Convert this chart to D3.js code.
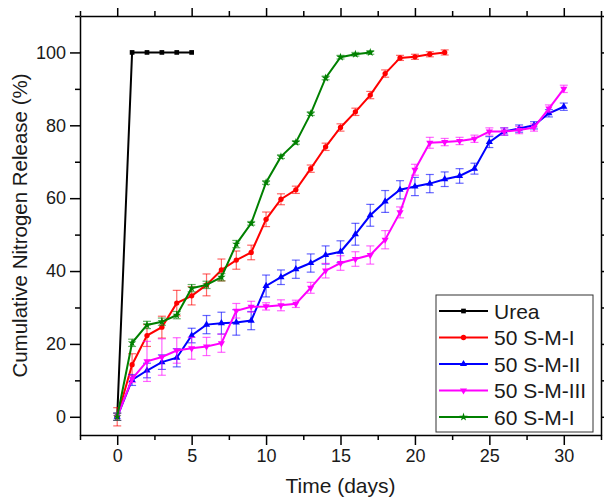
<!DOCTYPE html>
<html>
<head>
<meta charset="utf-8">
<style>
body { margin: 0; background: #fff; }
svg { font-family: "Liberation Sans", Arial, sans-serif; }
.axis path, .axis line { stroke: #000; stroke-width: 1.5px; }
.axis text { font-size: 18px; fill: #1a1a1a; }
</style>
<script src="https://d3js.org/d3.v7.min.js"></script>
</head>
<body>
<svg width="604" height="500"></svg>
<script>
// values (day index = position in array)
var names = ["Urea", "50 S-M-I", "50 S-M-II", "50 S-M-III", "60 S-M-I"];
var colors = ["#000000", "#ff0000", "#0000ff", "#ff00ff", "#008000"];
var symbols = [d3.symbolSquare, d3.symbolCircle, d3.symbolTriangle, "down", d3.symbolStar];

var urea = [0, 100, 100, 100, 100, 100];
var ureaErr = [0, 0, 0, 0, 0, 0];

var smI = [0, 14.3, 22.3, 24.6, 31.2, 33.2, 36.2, 40.3, 43, 45.1, 54.2, 59.7, 62.3, 68.1, 74.1, 79.4,
  83.7, 88.3, 94.2, 98.5, 98.8, 99.5, 100];
var smIErr = [2.5, 3, 3, 3, 3.5, 2.5, 3, 3, 2.5, 2, 2, 1.5, 1, 1, 1, 1, 1, 1, 1, 0.7, 0.7, 0.7, 0.7];

var smII = [0, 10.1, 12.7, 15, 16.2, 22.3, 25.3, 25.7, 25.9, 26.4, 35.9, 38.3, 40.5, 42.2, 44.4, 45.3,
  50.1, 55.3, 59.1, 62.3, 63.2, 64, 65.2, 66.1, 68.1, 75.4, 78.3, 79.1, 80, 83.3, 85.1];
var smIIErr = [1, 1.5, 2, 2, 2.5, 2, 2.5, 3, 3.5, 2.5, 3, 2, 2.5, 2.5, 2.5, 3, 3, 3, 3, 2.5, 2.5, 2.5,
  2, 2, 1.5, 1.5, 1, 1, 1, 1, 1];

var smIII = [0, 10.4, 15.2, 16.4, 18.2, 18.8, 19.3, 20.2, 29.1, 30.2, 30.3, 30.6, 31, 35.4, 40.1, 42.2,
  43.3, 44.4, 48.6, 56.1, 67.8, 75.2, 75.4, 75.7, 76.3, 78.3, 78.3, 78.7, 79.4, 84.6, 90];
var smIIIErr = [1, 1, 5.5, 5, 3.5, 3, 2.5, 2.5, 2, 1.5, 1, 1.5, 1, 1.5, 2, 2, 2, 2.5, 2.5, 1.5, 1.5,
  1.5, 1, 1, 1, 1, 1, 1, 1, 1, 1];

var sm60 = [0, 20.3, 25.2, 26.1, 27.9, 35.3, 36.2, 38.3, 47.4, 53.1, 64.3, 71.4, 75.3, 83.2, 93, 98.7, 99.5, 100];
var sm60Err = [1, 1, 1, 1, 1, 1, 1, 1, 1, 0.5, 0.5, 0.5, 0.5, 0.5, 0.5, 0.5, 0.5, 0.5];

var xTicks = [0, 5, 10, 15, 20, 25, 30];
var yTicks = [0, 20, 40, 60, 80, 100];

var values = [urea, smI, smII, smIII, sm60];
var errors = [ureaErr, smIErr, smIIErr, smIIIErr, sm60Err];

var series = names.map(function(n, i) {
  return {
    name: n, color: colors[i], symbol: symbols[i],
    points: values[i].map(function(v, d) { return {day: d, v: v, e: errors[i][d]}; })
  };
});

var svg = d3.select("svg"),
    margin = {top: 16, right: 3, bottom: 65, left: 80},
    width = +svg.attr("width") - margin.left - margin.right,
    height = +svg.attr("height") - margin.top - margin.bottom,
    g = svg.append("g").attr("transform", "translate(" + margin.left + "," + margin.top + ")");

var x = d3.scaleLinear().domain([-2.5, 32.5]).range([0, width]);
var y = d3.scaleLinear().domain([-5, 110]).range([height, 0]);

var xMinor = d3.range(-2.5, 33, 2.5).filter(function(d) { return xTicks.indexOf(d) < 0; });
var yMinor = d3.range(10, 111, 20);

function minorTicks(axisFn, scale, vals) {
  return axisFn(scale).tickValues(vals).tickSize(5).tickFormat("");
}

// bottom
g.append("g").attr("class", "axis").attr("transform", "translate(0," + height + ")")
  .call(d3.axisBottom(x).tickValues(xTicks).tickSize(10).tickPadding(4).tickSizeOuter(0));
g.append("g").attr("class", "axis").attr("transform", "translate(0," + height + ")")
  .call(minorTicks(d3.axisBottom, x, xMinor)).select(".domain").remove();
// top
g.append("g").attr("class", "axis")
  .call(d3.axisTop(x).tickValues(xTicks).tickSize(8).tickFormat("").tickSizeOuter(0));
g.append("g").attr("class", "axis")
  .call(minorTicks(d3.axisTop, x, xMinor)).select(".domain").remove();
// left
g.append("g").attr("class", "axis")
  .call(d3.axisLeft(y).tickValues(yTicks).tickSize(10).tickPadding(4).tickSizeOuter(0));
g.append("g").attr("class", "axis")
  .call(minorTicks(d3.axisLeft, y, yMinor)).select(".domain").remove();
// right
g.append("g").attr("class", "axis").attr("transform", "translate(" + width + ",0)")
  .call(d3.axisRight(y).tickValues(yTicks).tickSize(8).tickFormat("").tickSizeOuter(0));
g.append("g").attr("class", "axis").attr("transform", "translate(" + width + ",0)")
  .call(minorTicks(d3.axisRight, y, yMinor)).select(".domain").remove();

var line = d3.line().x(function(d) { return x(d.day); }).y(function(d) { return y(d.v); });

function symPath(s, size) {
  if (s === "down") {
    return d3.symbol().type(d3.symbolTriangle).size(size)();
  }
  return d3.symbol().type(s).size(size)();
}

var sg = g.selectAll(".series").data(series).enter().append("g").attr("class", "series");

// error bars
sg.each(function(s) {
  var eb = d3.select(this).append("g")
    .attr("stroke", s.color).attr("stroke-opacity", 0.6).attr("stroke-width", 1.2);
  s.points.filter(function(p) { return p.e > 0; }).forEach(function(p) {
    var cx = x(p.day);
    eb.append("line").attr("x1", cx).attr("x2", cx).attr("y1", y(p.v - p.e)).attr("y2", y(p.v + p.e));
    eb.append("line").attr("x1", cx - 4).attr("x2", cx + 4).attr("y1", y(p.v - p.e)).attr("y2", y(p.v - p.e));
    eb.append("line").attr("x1", cx - 4).attr("x2", cx + 4).attr("y1", y(p.v + p.e)).attr("y2", y(p.v + p.e));
  });
});

sg.append("path")
  .attr("fill", "none")
  .attr("stroke", function(s) { return s.color; })
  .attr("stroke-width", 2)
  .attr("d", function(s) { return line(s.points); });

sg.each(function(s) {
  d3.select(this).selectAll(".pt").data(s.points).enter().append("path")
    .attr("transform", function(p) {
      return "translate(" + x(p.day) + "," + y(p.v) + ")" + (s.symbol === "down" ? " rotate(180)" : "");
    })
    .attr("d", symPath(s.symbol, 22))
    .attr("fill", s.color);
});

// axis titles
svg.append("text")
  .attr("x", margin.left + width / 2).attr("y", 493)
  .attr("text-anchor", "middle").attr("font-size", 21).attr("fill", "#1a1a1a")
  .text("Time (days)");

svg.append("text")
  .attr("transform", "translate(27," + (margin.top + height / 2) + ") rotate(-90)")
  .attr("text-anchor", "middle").attr("font-size", 20.5).attr("fill", "#1a1a1a")
  .text("Cumulative Nitrogen Release (%)");

// legend
var legend = svg.append("g").attr("transform", "translate(436,295)");
legend.append("rect").attr("width", 157).attr("height", 137)
  .attr("fill", "#fff").attr("stroke", "#333").attr("stroke-width", 1);

var item = legend.selectAll(".item").data(series).enter().append("g")
  .attr("transform", function(d, i) { return "translate(0," + (16 + i * 26.5) + ")"; });
item.append("line").attr("x1", 3).attr("x2", 52)
  .attr("stroke", function(d) { return d.color; }).attr("stroke-width", 2);
item.append("path")
  .attr("transform", function(d) { return "translate(27.5,0)" + (d.symbol === "down" ? " rotate(180)" : ""); })
  .attr("d", function(d) { return symPath(d.symbol, 22); })
  .attr("fill", function(d) { return d.color; });
item.append("text").attr("x", 58).attr("dy", "0.36em")
  .attr("font-size", 21).attr("fill", "#1a1a1a")
  .text(function(d) { return d.name; });
</script>
</body>
</html>
